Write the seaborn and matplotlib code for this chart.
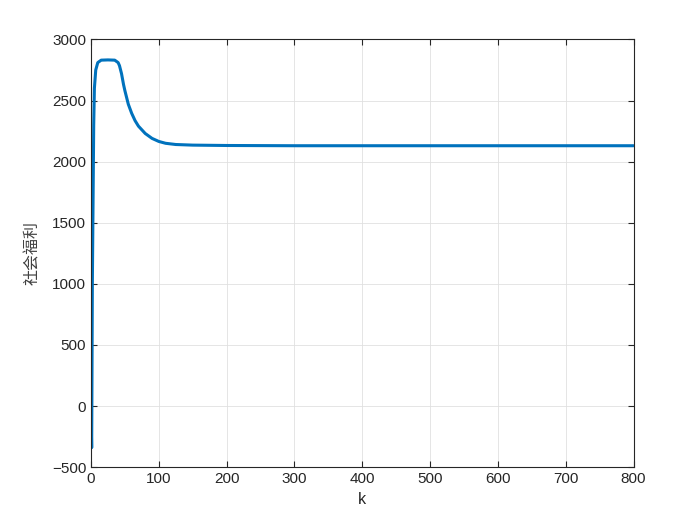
import pandas as pd
import seaborn as sns
import matplotlib
matplotlib.use("Agg")
import matplotlib.pyplot as plt

# values
k = [0, 1, 2, 3, 4, 5, 7, 10, 15, 25, 35, 40, 42, 45, 48, 50, 55, 60, 65,
     70, 80, 90, 100, 110, 125, 150, 200, 300, 400, 500, 600, 700, 800]
welfare = [-50, -340, 1000, 1650, 2300, 2600, 2750, 2810, 2830, 2832, 2830,
           2810, 2785, 2720, 2630, 2580, 2470, 2395, 2335, 2290, 2230, 2190,
           2165, 2150, 2140, 2135, 2132, 2130, 2130, 2130, 2130, 2130, 2130]

df = pd.DataFrame({"k": k, "welfare": welfare})

sns.set_style("white")
plt.rcParams["font.family"] = ["Liberation Sans", "DejaVu Sans"]

fig = plt.figure(figsize=(7, 5.25), dpi=100)
ax = fig.add_axes([0.13, 0.11, 0.775, 0.815])

sns.lineplot(data=df, x="k", y="welfare", color="#0072BD", linewidth=2.2, ax=ax)

ax.set_xlim(0, 800)
ax.set_ylim(-500, 3000)
ax.set_xticks(range(0, 801, 100))
ax.set_yticks(range(-500, 3001, 500))
ax.grid(True, color="#e0e0e0", linewidth=0.6)
ax.set_axisbelow(True)
for s in ax.spines.values():
    s.set_color("#262626")
    s.set_linewidth(0.8)
ax.tick_params(direction="in", length=4, width=0.8, colors="#262626",
               labelsize=11, top=True, right=True, bottom=True, left=True)
ax.tick_params(labeltop=False, labelright=False)

ax.set_xlabel("k", fontsize=11.5, color="#262626")
ax.set_ylabel("社会福利", fontsize=11.5, color="#404040", labelpad=8,
              family=["Noto Sans CJK SC", "DejaVu Sans"], fontweight="light")

fig.savefig("out.png", dpi=100)
